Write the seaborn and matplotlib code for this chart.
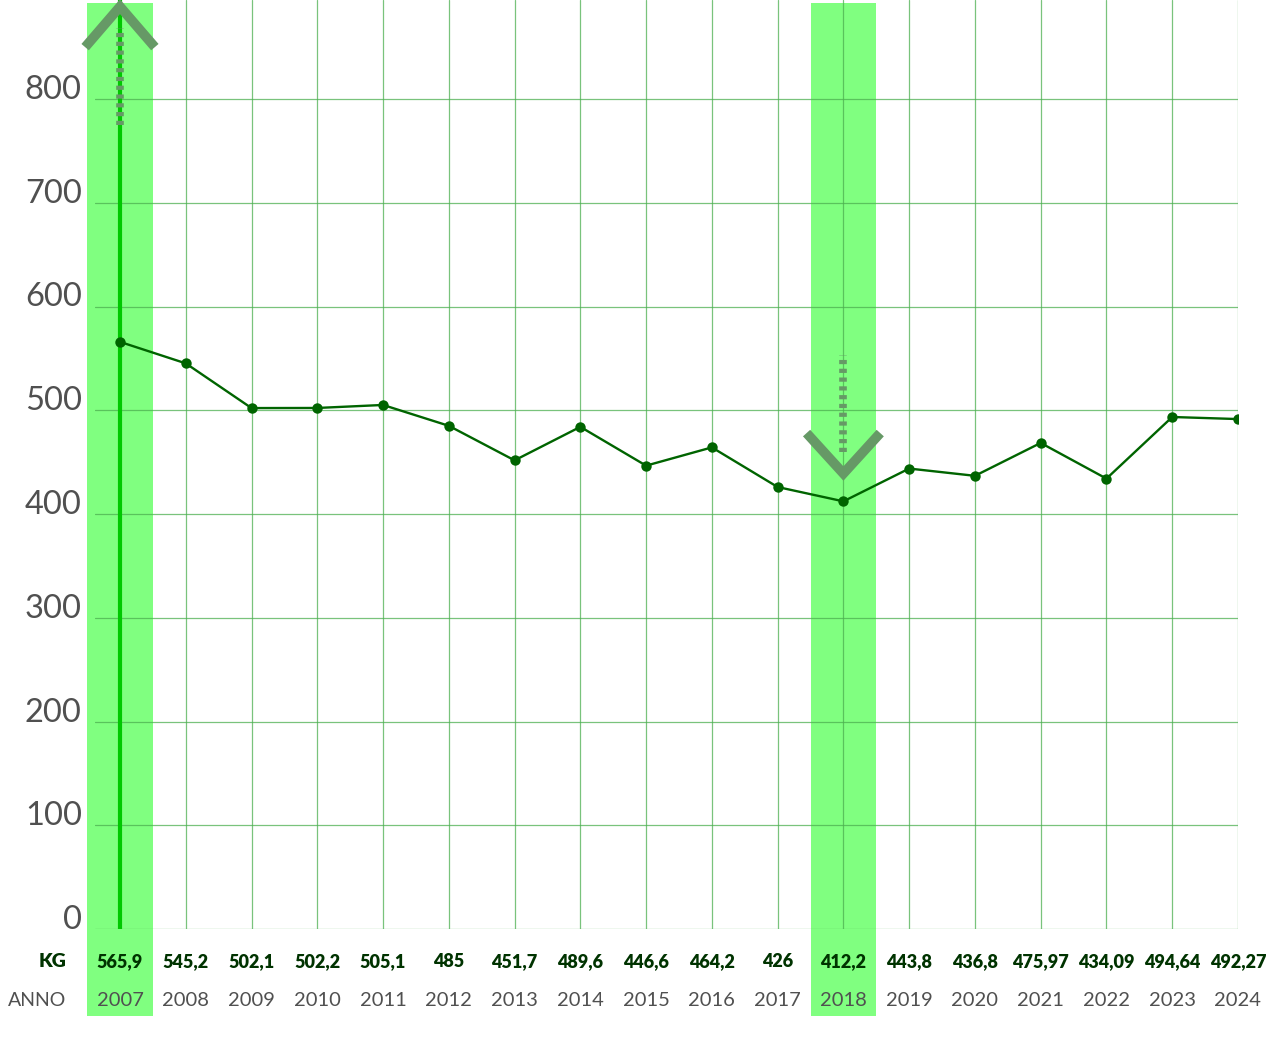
import matplotlib
matplotlib.use("Agg")
import matplotlib.pyplot as plt
import matplotlib.transforms as mtransforms
from matplotlib.patches import Rectangle
import seaborn as sns
import pandas as pd

# data
years = [2007, 2008, 2009, 2010, 2011, 2012, 2013, 2014, 2015,
         2016, 2017, 2018, 2019, 2020, 2021, 2022, 2023, 2024]
kg_values = [565.9, 545.2, 502.1, 502.2, 505.1, 485, 451.7, 484, 446.6,
             464.2, 426, 412.2, 443.8, 436.8, 468.5, 434.09, 493.5, 491.5]
kg_labels = ["565,9", "545,2", "502,1", "502,2", "505,1", "485", "451,7", "489,6", "446,6",
             "464,2", "426", "412,2", "443,8", "436,8", "475,97", "434,09", "494,64", "492,27"]
y_ticks = [0, 100, 200, 300, 400, 500, 600, 700, 800]
highlight_years = [2007, 2018]

df = pd.DataFrame({"anno": years, "kg": kg_values})

sns.set_style("white")
plt.rcParams["font.family"] = ["Lato", "DejaVu Sans"]

GRID = "#4caf50"
LINE = "#006400"
BAND = "#80ff80"
ARROW = "#669966"
TEXT = "#505050"

fig = plt.figure(figsize=(12.81, 10.38), dpi=100)
ax = fig.add_axes([95 / 1281, 109 / 1038, (1238 - 95) / 1281, 929 / 1038])

ax.set_xlim(years[0] - 0.38, years[-1])
ax.set_ylim(0, 929 / 1.0375)

# highlighted columns reaching down over the labels
band_tr = mtransforms.blended_transform_factory(ax.transData, ax.transAxes)
for yr in highlight_years:
    ax.add_patch(Rectangle((yr - 0.5, -0.0936), 1.0, 1.09, transform=band_tr,
                           color=BAND, lw=0, zorder=0.5, clip_on=False))

# grid
for t in y_ticks:
    ax.axhline(t, color=GRID, lw=0.9, alpha=0.75, zorder=1)
for yr in years[1:]:
    ax.axvline(yr, color=GRID, lw=0.9, alpha=0.75, zorder=1)
ax.axvline(years[0], color="#00c800", lw=3, zorder=2)

sns.lineplot(data=df, x="anno", y="kg", ax=ax, color=LINE, lw=1.7,
             marker="o", markersize=7.5, markeredgewidth=0, zorder=5)

# arrows: up over the 2007 column, down over the 2018 column
up_x = highlight_years[0]
ax.plot([up_x - 0.53, up_x, up_x + 0.53], [850, 889, 850], color=ARROW, lw=7,
        solid_capstyle="butt", solid_joinstyle="miter", zorder=4, clip_on=False)
ax.plot([up_x, up_x], [775, 868], color=ARROW, lw=5.5, linestyle=(0, (0.55, 0.6)),
        dash_capstyle="butt", zorder=4)

dn_x = highlight_years[1]
ax.plot([dn_x - 0.56, dn_x, dn_x + 0.56], [478, 439, 478], color=ARROW, lw=7,
        solid_capstyle="butt", solid_joinstyle="miter", zorder=4)
ax.plot([dn_x, dn_x], [460, 553], color=ARROW, lw=5.5, linestyle=(0, (0.55, 0.6)),
        dash_capstyle="butt", zorder=4)

# y tick labels
ax.set_yticks(y_ticks)
ax.set_yticklabels([str(t) for t in y_ticks], fontsize=23.5, color=TEXT)
for lab in ax.get_yticklabels():
    lab.set_va("baseline")
ax.tick_params(axis="y", length=0, pad=9.5)
ax.set_xticks([])
ax.set_xlabel("")
ax.set_ylabel("")
sns.despine(ax=ax, left=True, bottom=True)

# bottom rows: KG values and years
lab_x = years[0] - 0.82
ax.text(lab_x, -0.0355, "KG", transform=band_tr, ha="right", va="center",
        fontsize=14, fontweight="heavy", color="#003300")
ax.text(lab_x, -0.0765, "ANNO", transform=band_tr, ha="right", va="center",
        fontsize=14, color=TEXT)
for yr, lab in zip(years, kg_labels):
    ax.text(yr, -0.0355, lab, transform=band_tr, ha="center", va="center",
            fontsize=13, fontweight="heavy", color="#003300")
    ax.text(yr, -0.0765, str(yr), transform=band_tr, ha="center", va="center",
            fontsize=14.5, color=TEXT)

fig.savefig("out.png", dpi=100)
